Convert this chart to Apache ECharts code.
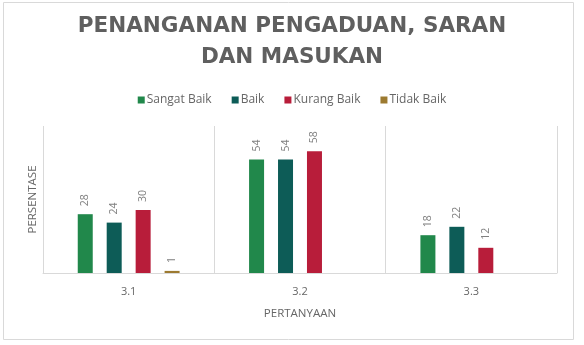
<!DOCTYPE html>
<html><head><meta charset="utf-8">
<script src="https://cdn.jsdelivr.net/npm/echarts@6/dist/echarts.min.js"></script>
<style>html,body{margin:0;padding:0;background:#fff}#c{width:584px;height:345px}</style>
</head><body><div id="c"></div>
<script>
const categories = ['3.1', '3.2', '3.3'];
const sangatBaik = [28, 54, 18];
const baik = [24, 54, 22];
const kurangBaik = [30, 58, 12];
const tidakBaik = [1, 0, 0];
const seriesNames = ['Sangat Baik', 'Baik', 'Kurang Baik', 'Tidak Baik'];
const seriesColors = ['#21884b', '#0d5c57', '#b81d3a', '#9c7a30'];
const seriesData = [sangatBaik, baik, kurangBaik, tidakBaik];

const chart = echarts.init(document.getElementById('c'));
const font = 'Open Sans';
chart.setOption({
  animation: false,
  graphic: [{type:'rect', shape:{x:3.5,y:2.5,width:570,height:337}, style:{fill:'none', stroke:'#d9d9d9', lineWidth:1}, silent:true}],
  title: {
    text: 'PENANGANAN PENGADUAN, SARAN\nDAN MASUKAN',
    left: 'center', top: 6,
    textStyle: {fontFamily: 'DejaVu Sans', fontSize: 21.5, fontWeight: 'bold', color: '#5f5f5f', lineHeight: 31}
  },
  legend: {
    top: 89, left: 'center', itemWidth: 7, itemHeight: 7, itemGap: 20, icon: 'rect',
    textStyle: {fontFamily: font, fontSize: 12, color: '#666666', padding:[0,0,0,-3]}
  },
  grid: {left: 43, right: 27, top: 126, bottom: 72},
  xAxis: {
    type: 'category', data: categories,
    name: 'PERTANYAAN', nameLocation: 'middle', nameGap: 35,
    nameTextStyle: {fontFamily: font, fontSize: 11.5, color: '#666666'},
    axisLine: {lineStyle: {color: '#d9d9d9'}},
    axisTick: {show: false},
    axisLabel: {fontFamily: font, fontSize: 11, color: '#666666', margin: 13},
    splitLine: {show: true, lineStyle: {color: '#d9d9d9'}}
  },
  yAxis: {
    type: 'value', min: 0, max: 70,
    name: 'PERSENTASE', nameLocation: 'middle', nameGap: 4,
    nameTextStyle: {fontFamily: font, fontSize: 11.5, color: '#666666'},
    axisLine: {show: false}, axisTick: {show: false}, axisLabel: {show: false},
    splitLine: {show: false}
  },
  series: seriesNames.map((n, i) => ({
    name: n, type: 'bar', data: seriesData[i],
    itemStyle: {color: seriesColors[i]},
    barWidth: 15, barGap: '93%',
    label: {
      show: true, position: 'top', rotate: 90, align: 'left', verticalAlign: 'middle', distance: 8,
      fontFamily: font, fontSize: 10.5, color: '#7f7f7f',
      formatter: p => p.value === 0 ? '' : String(p.value)
    }
  }))
});
</script></body></html>
